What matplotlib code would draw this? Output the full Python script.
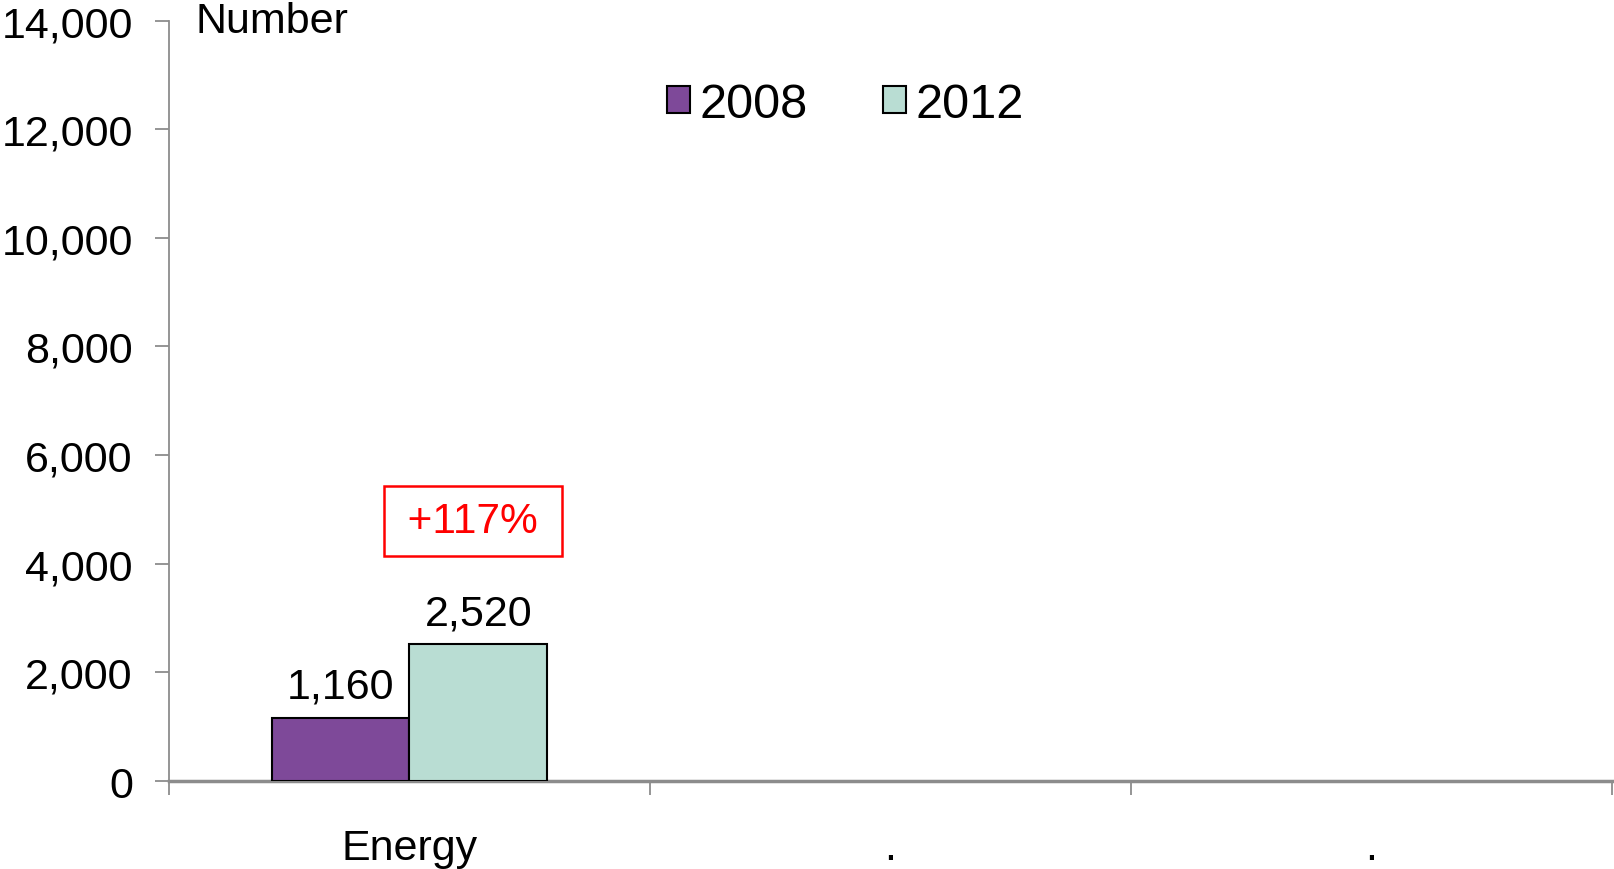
import numpy as np
import matplotlib
matplotlib.use("Agg")
import matplotlib.pyplot as plt
from matplotlib.patches import Patch

plt.rcParams['font.family'] = ['Liberation Sans', 'DejaVu Sans']

categories = ["Energy", ".", "."]
series_names = ["2008", "2012"]
values_2008 = [1160]
values_2012 = [2520]
change_labels = ["+117%"]
yticks = [0, 2000, 4000, 6000, 8000, 10000, 12000, 14000]

c2008 = "#7E4999"
c2012 = "#B9DDD3"
grey = "#8C8C8C"

fig = plt.figure(figsize=(16.14, 8.70), dpi=100)
ax = fig.add_axes([0.1047, 0.1011, 0.8941, 0.8741])

w = 0.286
x = np.arange(len(values_2008))
b1 = ax.bar(x - w / 2, values_2008, width=w, color=c2008, edgecolor="black", linewidth=1.5, zorder=3)
b2 = ax.bar(x + w / 2, values_2012, width=w, color=c2012, edgecolor="black", linewidth=1.5, zorder=3)

for rects, vals in ((b1, values_2008), (b2, values_2012)):
    for r, v in zip(rects, vals):
        ax.annotate(f"{v:,}", (r.get_x() + r.get_width() / 2, v), xytext=(0, 8),
                    textcoords="offset points", ha="center", va="bottom", fontsize=31)

for i, lab in enumerate(change_labels):
    ax.text(i + 0.132, 4787, "\u2009" + lab + "\u2009", ha="center", va="center", fontsize=30.5, color="red",
            bbox=dict(boxstyle="square,pad=0.36", facecolor="white", edgecolor="red", linewidth=1.8))

ax.set_xlim(-0.5, len(categories) - 0.5)
ax.set_ylim(0, 14000)
ax.set_yticks(yticks)
ax.set_yticklabels([f"{t:,}" for t in yticks], fontsize=31)
ax.tick_params(axis="y", direction="out", length=10, width=1.3, color=grey, pad=16)

ax.set_xticks(np.arange(len(categories)))
ax.set_xticklabels(categories, fontsize=31)
ax.tick_params(axis="x", which="major", length=0, pad=34)
ax.set_xticks(np.arange(len(categories) + 1) - 0.5, minor=True)
ax.tick_params(axis="x", which="minor", direction="out", length=10, width=1.3, color=grey)

for s in ("top", "right"):
    ax.spines[s].set_visible(False)
ax.spines["left"].set_color(grey)
ax.spines["left"].set_linewidth(1.3)
ax.spines["bottom"].set_color(grey)
ax.spines["bottom"].set_linewidth(2.5)
ax.spines["left"].set_bounds(0, 14000)

fig.text(0.1212, 0.975, "Number", fontsize=31, ha="left", va="center")

handles = [Patch(facecolor=c2008, edgecolor="black", linewidth=1.5),
           Patch(facecolor=c2012, edgecolor="black", linewidth=1.5)]
fig.legend(handles, series_names, loc="center", bbox_to_anchor=(0.524, 0.879), ncol=2,
           frameon=False, fontsize=35, handlelength=0.47, handleheight=0.47,
           handletextpad=0.2, columnspacing=1.55)

fig.savefig("out.png", dpi=100, facecolor="white")
